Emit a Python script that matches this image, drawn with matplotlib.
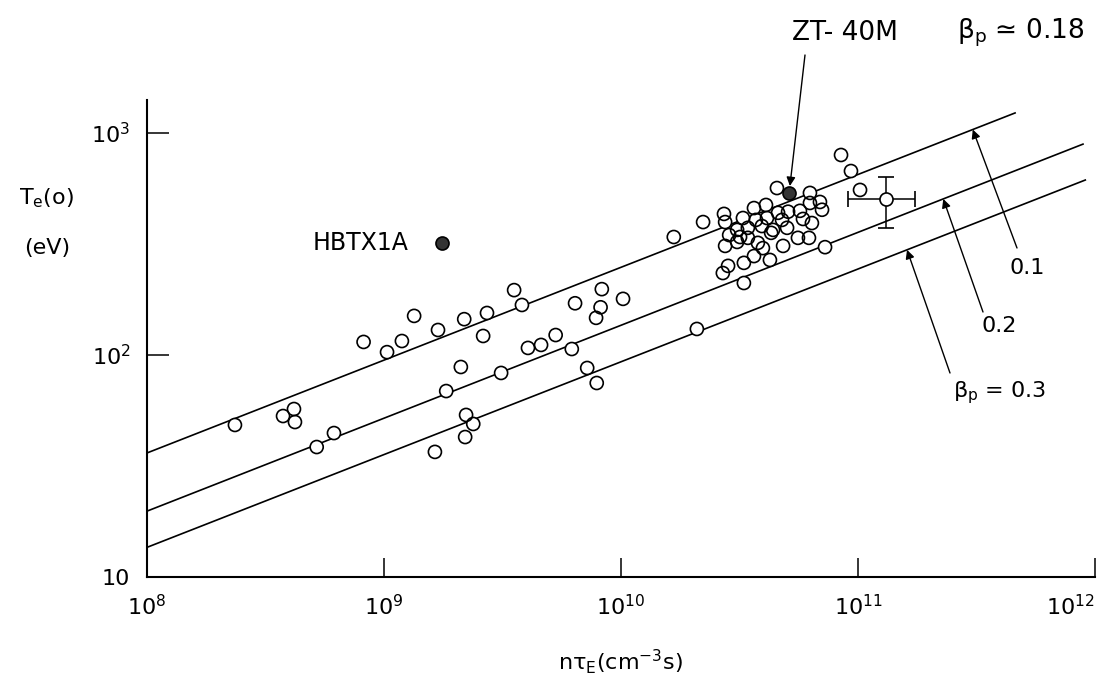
import numpy as np
import matplotlib.pyplot as plt

# open circles: n*tau_E (cm^-3 s), Te(0) (eV)
ntau = [2.35e8, 3.75e8, 4.17e8, 4.21e8, 5.2e8, 6.15e8, 8.2e8, 1.03e9, 1.19e9,
        1.34e9, 1.69e9, 2.18e9, 2.72e9, 2.62e9, 3.54e9, 3.82e9, 2.11e9, 1.83e9,
        3.12e9, 2.22e9, 2.38e9, 2.20e9, 1.64e9, 4.05e9, 4.6e9, 5.3e9, 6.2e9,
        6.4e9, 8.3e9, 8.2e9, 7.85e9, 1.02e10, 7.2e9, 7.9e9, 2.09e10, 1.67e10,
        2.22e10,
        2.72e10, 2.75e10, 2.86e10, 2.75e10, 3.09e10, 3.09e10, 3.27e10, 3.43e10,
        3.43e10, 3.64e10, 3.71e10, 3.78e10, 3.93e10, 4.09e10, 4.13e10, 4.30e10,
        4.55e10, 4.60e10, 4.78e10, 5.07e10, 5.69e10, 6.27e10, 6.27e10, 6.91e10,
        7.05e10, 6.39e10, 5.86e10, 5.58e10, 6.21e10, 4.83e10, 4.25e10, 3.64e10,
        3.30e10, 2.69e10, 2.83e10, 3.30e10, 7.26e10, 8.48e10, 9.34e10, 1.02e11,
        3.97e10, 3.18e10, 5.02e10, 4.38e10]
te = [48.4, 53.1, 57.1, 49.9, 38.5, 44.5, 114.5, 103, 115.6,
      150, 129.6, 145, 154.6, 121.8, 196, 168, 88.3, 68.8,
      83, 53.7, 48.9, 42.7, 36.6, 107.6, 111, 123, 106.4,
      171, 198, 164, 147, 179, 87.4, 74.8, 131, 340,
      397,
      432, 397, 347, 310, 366, 323, 414, 374,
      337, 459, 406, 320, 381, 474, 414, 355,
      565, 437, 406, 442, 446, 537, 484, 489,
      451, 393, 410, 337, 337, 310, 268, 279,
      260, 234, 252, 211, 306, 796, 674, 554,
      303, 340, 374, 366]

# filled points
hbtx_ntau, hbtx_te = 1.75e9, 320
zt_ntau, zt_te = 5.12e10, 537

# point with error bars
err_ntau, err_te = 1.31e11, 504
err_ntau_lo, err_ntau_hi = 9.07e10, 1.74e11
err_te_lo, err_te_hi = 373, 634

# beta_p lines (straight in log-log): start and end points
beta_labels = ['0.1', '0.2', 'β$_{\\mathrm{p}}$ = 0.3']
line_x0 = [1e8, 1e8, 1e8]
line_y0 = [36.2, 19.8, 13.6]
line_x1 = [4.6e11, 8.9e11, 9.1e11]
line_y1 = [1231, 891, 614]
arrow_tip_x = [3.05e11, 2.29e11, 1.61e11]


def on_line(i, x):
    lx0, lx1 = np.log10(line_x0[i]), np.log10(line_x1[i])
    ly0, ly1 = np.log10(line_y0[i]), np.log10(line_y1[i])
    return 10 ** (ly0 + (np.log10(x) - lx0) * (ly1 - ly0) / (lx1 - lx0))


W, H = 1114, 689
plt.rcParams['font.family'] = 'DejaVu Sans'
fig = plt.figure(figsize=(W / 100, H / 100), dpi=100)
ax = fig.add_axes([147 / W, 112 / H, (1095 - 147) / W, (577 - 100) / H])
ax.set_xscale('log')
ax.set_yscale('log')
ax.set_xlim(1e8, 1e12)
ax.set_ylim(10, 1408)

for s in ['top', 'right']:
    ax.spines[s].set_visible(False)
for s in ['left', 'bottom']:
    ax.spines[s].set_linewidth(1.5)

ax.set_xticks([1e8, 1e9, 1e10, 1e11, 1e12],
              [r'$10^{8}$', r'$10^{9}$', r'$10^{10}$', r'$10^{11}$', r'$10^{12}$'])
ax.set_yticks([10, 100, 1000], ['10', r'$10^{2}$', r'$10^{3}$'])
ax.minorticks_off()
ax.tick_params(axis='x', direction='in', length=14, width=1.1, pad=12, labelsize=16)
ax.tick_params(axis='y', direction='in', length=16, width=1.1, pad=12, labelsize=16)
ax.get_xticklabels()[-1].set_ha('right')

for i in range(3):
    ax.plot([line_x0[i], line_x1[i]], [line_y0[i], line_y1[i]], color='black',
            lw=1.2, zorder=2)

# open circles: white fill under, outlines on top so overlaps stay visible
ax.scatter(ntau, te, s=88, facecolors='white', edgecolors='none', zorder=3)
ax.scatter(ntau, te, s=88, facecolors='none', edgecolors='black',
           linewidths=1.2, zorder=4)

ax.scatter([hbtx_ntau, zt_ntau], [hbtx_te, zt_te], s=88, facecolors='#333333',
           edgecolors='black', linewidths=1.2, zorder=5)

ax.errorbar(err_ntau, err_te,
            xerr=[[err_ntau - err_ntau_lo], [err_ntau_hi - err_ntau]],
            yerr=[[err_te - err_te_lo], [err_te_hi - err_te]],
            fmt='o', ms=9.4, mfc='white', mec='black', mew=1.2,
            ecolor='black', elinewidth=1.1, capsize=6, capthick=1.1, zorder=5)

arrow = dict(arrowstyle='-|>', color='black', lw=1.0, shrinkA=0, shrinkB=0,
             mutation_scale=13)

# labels of the beta_p lines
tails = [(1017, 248), (983, 312), (950, 373)]
label_pos = [(1027, 268), (999, 326), (1000, 393)]
for i in range(3):
    xt = arrow_tip_x[i]
    ax.annotate('', xy=(xt, on_line(i, xt)), xycoords='data',
                xytext=(tails[i][0], H - tails[i][1]), textcoords='figure pixels',
                arrowprops=arrow, annotation_clip=False)
    fig.text(label_pos[i][0] / W, 1 - label_pos[i][1] / H, beta_labels[i],
             ha='center', va='center', fontsize=16)

# ZT-40M
ax.annotate('', xy=(zt_ntau, zt_te), xycoords='data',
            xytext=(805, H - 55), textcoords='figure pixels',
            arrowprops=dict(arrow, shrinkB=5), annotation_clip=False)
fig.text(845 / W, 1 - 33 / H, 'ZT- 40M', ha='center', va='center', fontsize=19)
fig.text(1021 / W, 1 - 33 / H, 'β$_{\\mathrm{p}}$ ≃ 0.18', ha='center',
         va='center', fontsize=19)

ax.annotate('HBTX1A', xy=(hbtx_ntau, hbtx_te), xytext=(-24, 0),
            textcoords='offset points', ha='right', va='center', fontsize=17)

fig.text(47 / W, 1 - 198 / H, 'T$_{\\mathrm{e}}$(o)', ha='center', va='center',
         fontsize=16)
fig.text(47 / W, 1 - 248 / H, '(eV)', ha='center', va='center', fontsize=16)
fig.text(620 / W, 1 - 662 / H, 'nτ$_{\\mathrm{E}}$(cm$^{-3}$s)', ha='center',
         va='center', fontsize=16)

fig.savefig('out.png', dpi=100)
